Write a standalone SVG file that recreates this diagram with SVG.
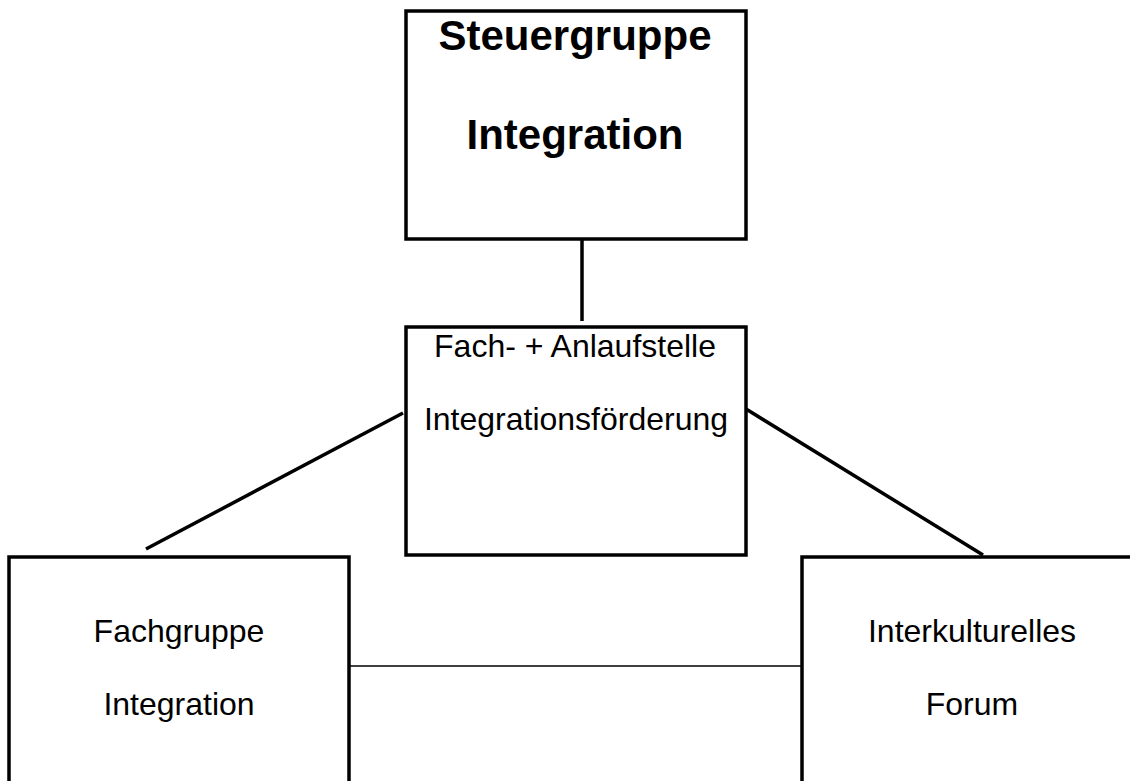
<svg xmlns="http://www.w3.org/2000/svg" width="1130" height="781" viewBox="0 0 1130 781">
<style>
.box{fill:#fff;stroke:#000;stroke-width:3.5}
.t{font-family:"Liberation Sans",Arial,sans-serif;fill:#000;text-anchor:middle}
.b{font-weight:bold;font-size:42px}
.r{font-size:32px}
.c{stroke:#000;stroke-width:3.5;fill:none}
.thin{stroke:#000;stroke-width:1.5;fill:none}
</style>
<rect width="1130" height="781" fill="#fff"/>
<g id="connectors">
<line class="c" x1="582" y1="239" x2="582" y2="321"/>
<line class="c" x1="146" y1="549" x2="403" y2="413"/>
<line class="c" x1="746" y1="409" x2="983" y2="555"/>
<line class="thin" x1="345" y1="666" x2="801" y2="666"/>
</g>
<g id="steuergruppe">
<rect class="box" x="406" y="11" width="340" height="228"/>
<text class="t b" x="575" y="50">Steuergruppe</text>
<text class="t b" x="575" y="149">Integration</text>
</g>
<g id="fachstelle">
<rect class="box" x="406" y="327" width="340" height="228"/>
<text class="t r" x="575" y="357">Fach- + Anlaufstelle</text>
<text class="t r" x="576" y="430">Integrationsförderung</text>
</g>
<g id="fachgruppe">
<rect class="box" x="9" y="557" width="340" height="240"/>
<text class="t r" x="179" y="642">Fachgruppe</text>
<text class="t r" x="179" y="715">Integration</text>
</g>
<g id="forum">
<rect class="box" x="802" y="557" width="340" height="240"/>
<text class="t r" x="972" y="642">Interkulturelles</text>
<text class="t r" x="972" y="715">Forum</text>
</g>
</svg>
